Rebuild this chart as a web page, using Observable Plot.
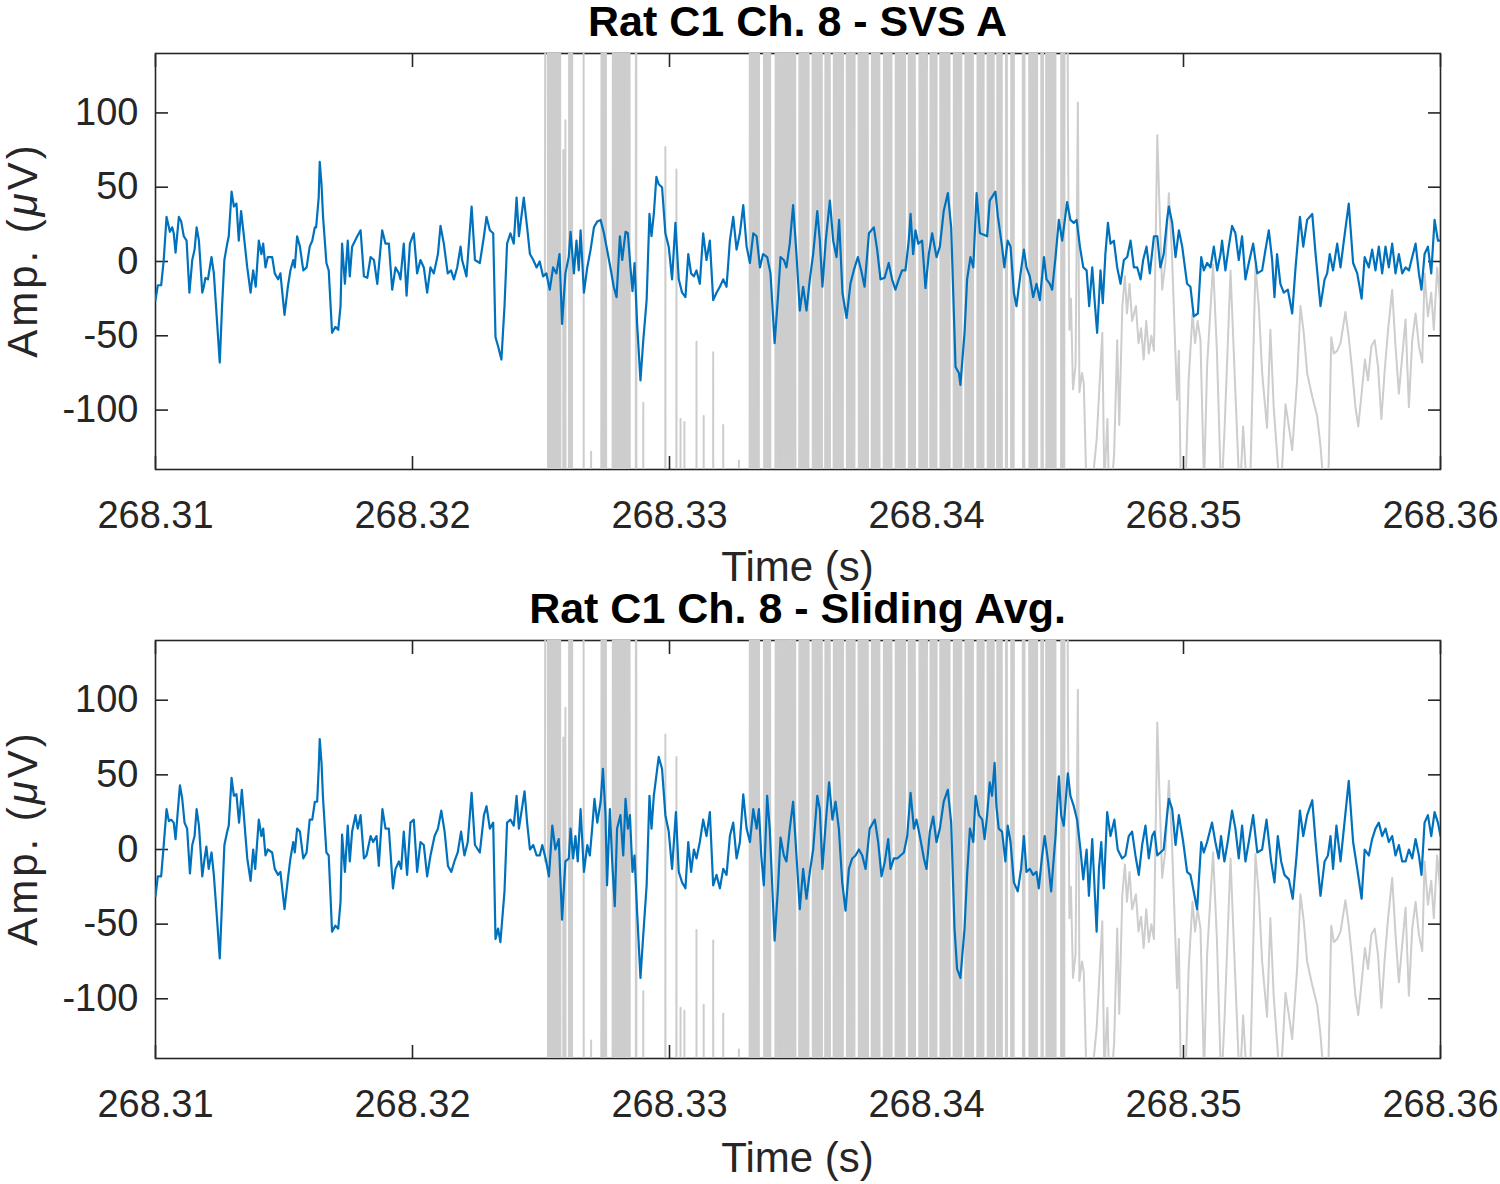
<!DOCTYPE html>
<html><head><meta charset="utf-8">
<script src="https://cdn.jsdelivr.net/npm/d3@7"></script>
<script src="https://cdn.jsdelivr.net/npm/@observablehq/plot@0.6"></script>
<style>
body{margin:0;background:#fff;}
#wrap{position:relative;width:1500px;height:1184px;overflow:hidden;font-family:"Liberation Sans",Arial,Helvetica,sans-serif;color:#262626;}
.t{position:absolute;left:155px;width:1285px;text-align:center;font-size:42px;line-height:32px;white-space:nowrap;}
.title{font-weight:bold;color:#000;font-size:43px;line-height:32px;}
.ylab{position:absolute;font-size:42px;line-height:42px;white-space:nowrap;writing-mode:vertical-rl;letter-spacing:3px;transform:translate(-50%,-50%) rotate(180deg);}
.panel{position:absolute;left:0;}
</style></head>
<body><div id="wrap"></div>
<script>
// time offsets in ms after 268.31 s, amplitude in µV
const startTime = 268.31;
const xTicks = [268.31, 268.32, 268.33, 268.34, 268.35, 268.36];
const yTicks = [-100, -50, 0, 50, 100];
const panelTitles = ["Rat C1 Ch. 8 - SVS A", "Rat C1 Ch. 8 - Sliding Avg."];

const svsTop = [[0.00,-26],[0.09,-16],[0.22,-16],[0.32,1],[0.43,30],[0.52,23],[0.56,20],[0.65,23],[0.71,19],[0.78,6],[0.91,30],[1.00,27],[1.10,17],[1.21,14],[1.32,-21],[1.43,1],[1.52,8],[1.60,23],[1.69,14],[1.82,-21],[1.88,-17],[1.94,-11],[2.04,-12],[2.18,3],[2.27,-8],[2.40,-42],[2.50,-68],[2.59,-30],[2.68,1],[2.79,12],[2.85,17],[2.96,47],[3.05,37],[3.15,39],[3.24,14],[3.33,34],[3.44,17],[3.57,-4],[3.70,-21],[3.80,-6],[3.90,-17],[4.02,14],[4.12,5],[4.19,12],[4.28,-4],[4.37,3],[4.54,3],[4.64,-8],[4.77,-12],[4.86,-8],[5.02,-36],[5.15,-17],[5.25,-6],[5.36,1],[5.42,-4],[5.51,17],[5.62,10],[5.75,-6],[5.88,-4],[6.00,10],[6.10,14],[6.20,23],[6.25,23],[6.35,43],[6.39,67],[6.46,52],[6.52,30],[6.65,-1],[6.74,-6],[6.87,-48],[7.00,-44],[7.11,-46],[7.20,-30],[7.26,12],[7.37,-15],[7.48,14],[7.56,-10],[7.65,10],[7.85,17],
[7.98,21],[8.11,-10],[8.24,-11],[8.37,3],[8.50,1],[8.63,-15],[8.82,21],[8.95,12],[9.08,12],[9.21,-19],[9.34,-4],[9.47,-8],[9.53,-12],[9.66,12],[9.77,-23],[9.90,12],[10.05,19],[10.18,-8],[10.31,1],[10.44,-4],[10.57,-21],[10.70,-4],[10.83,-8],[10.99,5],[11.09,24],[11.22,12],[11.37,-8],[11.50,-6],[11.61,-12],[11.74,-4],[11.87,10],[11.93,1],[12.10,-10],[12.30,37],[12.43,1],[12.62,-1],[12.78,17],[12.88,30],[13.01,21],[13.14,19],[13.23,-51],[13.33,-57],[13.46,-66],[13.58,-30],[13.68,12],[13.81,19],[13.94,12],[14.05,43],[14.14,17],[14.33,43],[14.46,23],[14.57,5],[14.70,1],[14.83,-4],[14.95,0],[15.08,-10],[15.21,-8],[15.34,-19],[15.47,-4],[15.60,-8],[15.72,5],[15.82,-42],[15.95,-8],[16.08,3],
[16.15,20],[16.28,-8],[16.38,14],[16.47,-6],[16.54,21],[16.67,-21],[16.80,-4],[16.93,8],[17.06,23],[17.19,27],[17.32,28],[17.45,19],[17.57,8],[17.70,-4],[17.83,-17],[17.94,-24],[18.07,17],[18.16,1],[18.29,20],[18.38,19],[18.48,-4],[18.56,-20],[18.64,-1],[18.74,-42],[18.87,-80],[18.98,-53],[19.11,-26],[19.22,32],[19.30,17],[19.39,32],[19.49,57],[19.58,52],[19.71,50],[19.84,19],[19.97,10],[20.10,-12],[20.23,26],[20.36,-12],[20.49,-21],[20.62,-24],[20.73,5],[20.84,-8],[20.95,-10],[21.05,-6],[21.18,-15],[21.31,19],[21.44,1],[21.57,14],[21.70,-26],[21.83,-21],[21.96,-17],[22.09,-12],[22.22,-17],[22.35,14],[22.48,30],[22.61,8],[22.74,19],[22.87,38],[23.00,10],[23.13,-1],[23.26,19],[23.39,17],[23.52,-4],[23.64,5],[23.80,3],[23.93,-8],[24.09,-55],[24.22,-24],[24.32,3],
[24.45,1],[24.55,-4],[24.68,12],[24.81,38],[24.94,5],[25.07,-33],[25.20,-17],[25.33,-33],[25.46,-12],[25.59,5],[25.75,34],[25.85,14],[25.95,-17],[26.08,14],[26.24,41],[26.37,14],[26.50,3],[26.60,28],[26.73,-21],[26.89,-38],[27.04,-15],[27.17,-6],[27.33,3],[27.46,-6],[27.59,-17],[27.76,19],[27.95,23],[28.08,8],[28.21,-12],[28.37,-11],[28.53,-1],[28.66,-12],[28.79,-19],[28.92,-12],[29.05,-6],[29.18,-6],[29.31,14],[29.38,32],[29.48,5],[29.57,21],[29.68,12],[29.83,14],[29.96,-18],[30.09,5],[30.22,19],[30.39,3],[30.52,10],[30.67,34],[30.83,46],[30.96,23],[31.13,-71],[31.26,-75],[31.32,-83],[31.48,-48],[31.58,-12],[31.71,3],[31.82,-4],[31.95,46],[32.08,19],[32.23,18],[32.36,17],[32.46,41],
[32.68,47],[32.78,30],[32.94,10],[33.03,-4],[33.16,14],[33.27,10],[33.40,-21],[33.50,-30],[33.66,-8],[33.79,8],[33.89,-4],[34.02,-10],[34.15,-24],[34.28,-15],[34.41,-26],[34.57,3],[34.67,-12],[34.80,-15],[34.89,-19],[35.02,3],[35.15,28],[35.28,14],[35.47,40],[35.60,28],[35.73,26],[35.84,28],[35.97,10],[36.10,-4],[36.23,-6],[36.33,-30],[36.45,-4],[36.54,-26],[36.64,-48],[36.77,-6],[36.86,-28],[36.96,5],[37.06,26],[37.16,12],[37.29,14],[37.42,-4],[37.55,-15],[37.68,1],[37.81,3],[37.94,14],[38.07,-4],[38.20,-4],[38.33,-12],[38.43,1],[38.56,10],[38.69,-8],[38.85,17],[38.98,17],[39.10,-4],[39.23,5],[39.36,28],[39.43,37],[39.56,26],[39.69,3],[39.82,21],[39.95,10],[40.14,-15],[40.27,-17],[40.40,-37],[40.56,-35],
[40.69,3],[40.79,-6],[40.92,-1],[41.05,-4],[41.18,10],[41.31,-6],[41.44,5],[41.50,14],[41.63,-6],[41.76,10],[41.89,24],[42.02,19],[42.15,1],[42.28,17],[42.41,-12],[42.54,-1],[42.71,12],[42.87,-8],[43.06,-6],[43.19,8],[43.32,21],[43.45,1],[43.54,-24],[43.64,5],[43.77,-15],[43.90,-21],[44.06,-19],[44.23,-35],[44.36,-4],[44.53,30],[44.66,10],[44.81,28],[45.01,32],[45.14,5],[45.33,-30],[45.49,-12],[45.59,-8],[45.69,5],[45.82,-6],[45.98,12],[46.11,-4],[46.24,14],[46.43,39],[46.60,-1],[46.76,-8],[46.93,-25],[47.05,3],[47.21,-4],[47.34,8],[47.47,-6],[47.60,10],[47.73,-8],[47.86,10],[47.99,-4],[48.12,12],[48.25,-8],[48.38,5],[48.51,-8],[48.64,-4],[48.77,-6],[48.90,3],[49.03,12],[49.16,-8],[49.26,-19],[49.38,5],[49.51,10],[49.64,-8],[49.77,28],[49.90,14],[50.00,14]];

const slidingAvg = [[0.00,-31],[0.09,-18],[0.22,-18],[0.32,3],[0.43,27],[0.52,19],[0.61,20],[0.71,18],[0.78,7],[0.95,43],[1.04,34],[1.13,18],[1.23,14],[1.34,-16],[1.43,3],[1.52,9],[1.60,27],[1.69,16],[1.82,-18],[1.91,-6],[1.98,2],[2.07,-13],[2.18,-2],[2.27,-17],[2.40,-48],[2.50,-73],[2.59,-35],[2.68,3],[2.79,12],[2.85,16],[2.96,48],[3.05,36],[3.15,37],[3.25,18],[3.36,40],[3.46,18],[3.57,-6],[3.70,-21],[3.80,0],[3.88,-13],[4.02,20],[4.12,9],[4.19,14],[4.28,-4],[4.37,0],[4.54,-2],[4.64,-13],[4.77,-17],[4.86,-15],[5.02,-40],[5.15,-20],[5.25,-6],[5.36,5],[5.42,-2],[5.51,14],[5.62,12],[5.75,-6],[5.88,-2],[6.00,20],[6.10,20],[6.20,32],[6.29,32],[6.35,54],[6.39,74],[6.46,58],[6.52,34],[6.65,-2],[6.74,-4],[6.87,-55],[7.00,-51],[7.11,-53],[7.20,-35],[7.26,10],[7.37,-15],[7.48,16],[7.56,-8],[7.65,12],[7.78,23],[7.87,14],
[7.98,23],[8.11,-6],[8.21,-4],[8.37,9],[8.47,5],[8.60,9],[8.69,-11],[8.83,27],[8.95,14],[9.08,14],[9.24,-26],[9.34,-13],[9.47,-8],[9.56,-13],[9.66,12],[9.79,-17],[9.92,18],[10.05,20],[10.18,-15],[10.31,5],[10.44,3],[10.57,-18],[10.70,-4],[10.86,9],[10.99,14],[11.12,26],[11.25,12],[11.38,-11],[11.51,-15],[11.63,-8],[11.76,-2],[11.89,12],[12.02,-4],[12.15,5],[12.30,38],[12.43,3],[12.62,-2],[12.78,23],[12.88,29],[13.01,14],[13.14,18],[13.23,-60],[13.33,-53],[13.42,-62],[13.58,-28],[13.68,18],[13.81,20],[13.94,16],[14.05,36],[14.14,14],[14.36,39],[14.46,18],[14.57,0],[14.70,3],[14.83,-4],[14.95,-4],[15.05,3],[15.18,-6],[15.31,-18],[15.44,16],[15.56,0],[15.69,7],[15.82,-47],[15.95,-8],[16.08,-6],
[16.15,14],[16.25,-6],[16.34,9],[16.43,-8],[16.54,27],[16.67,-15],[16.80,3],[16.90,-4],[16.99,14],[17.08,34],[17.19,18],[17.32,32],[17.41,54],[17.51,23],[17.57,-24],[17.68,27],[17.77,-8],[17.87,-38],[17.96,14],[18.09,23],[18.20,-4],[18.29,34],[18.38,14],[18.46,23],[18.56,-15],[18.64,-4],[18.74,-42],[18.87,-86],[18.98,-57],[19.11,-24],[19.22,36],[19.30,14],[19.39,36],[19.58,62],[19.71,54],[19.84,23],[19.97,12],[20.10,-13],[20.25,25],[20.36,-15],[20.49,-22],[20.62,-26],[20.73,5],[20.84,-15],[20.95,0],[21.05,-6],[21.18,5],[21.31,20],[21.44,9],[21.57,25],[21.70,-24],[21.83,-17],[21.96,-26],[22.09,-13],[22.22,-17],[22.35,9],[22.48,18],[22.61,-6],[22.74,5],[22.87,37],[23.00,14],[23.13,5],[23.26,27],[23.39,14],[23.48,27],[23.57,-4],[23.67,-24],[23.80,36],[23.90,14],[24.09,-61],[24.22,-26],[24.32,8],
[24.45,-4],[24.55,-8],[24.68,14],[24.81,32],[24.94,-4],[25.07,-40],[25.20,-13],[25.33,-33],[25.46,-15],[25.59,0],[25.75,36],[25.85,27],[25.95,-13],[26.08,18],[26.21,45],[26.34,20],[26.46,32],[26.59,14],[26.72,-22],[26.85,-41],[26.98,-13],[27.11,-6],[27.24,-4],[27.37,0],[27.50,-4],[27.63,-13],[27.79,14],[27.99,20],[28.12,5],[28.25,-18],[28.38,-8],[28.51,7],[28.60,-13],[28.73,-6],[28.86,-6],[28.99,-4],[29.12,-2],[29.25,9],[29.38,38],[29.51,14],[29.61,20],[29.74,9],[29.90,-6],[30.00,-13],[30.13,12],[30.26,22],[30.39,5],[30.52,14],[30.67,32],[30.83,40],[30.96,18],[31.09,-53],[31.19,-80],[31.32,-86],[31.48,-53],[31.58,-17],[31.69,14],[31.82,5],[31.91,36],[32.04,23],[32.17,20],[32.26,7],[32.36,23],[32.46,45],[32.55,36],[32.65,58],
[32.72,29],[32.81,14],[32.94,12],[33.07,-8],[33.16,16],[33.27,5],[33.40,-22],[33.55,-28],[33.68,-13],[33.79,9],[33.89,-15],[34.02,-13],[34.15,-17],[34.28,-15],[34.37,-26],[34.50,-4],[34.60,9],[34.73,-8],[34.85,-28],[35.02,9],[35.15,49],[35.24,23],[35.34,16],[35.50,51],[35.60,36],[35.73,29],[35.86,20],[35.99,0],[36.10,-20],[36.23,0],[36.32,-31],[36.45,7],[36.54,-26],[36.62,-55],[36.71,-13],[36.80,5],[36.90,-26],[37.03,25],[37.16,9],[37.31,20],[37.44,0],[37.61,-6],[37.74,-4],[37.87,9],[38.00,12],[38.13,-4],[38.26,-17],[38.39,3],[38.52,16],[38.65,-6],[38.78,9],[38.87,12],[38.98,-4],[39.10,-2],[39.23,0],[39.36,23],[39.43,34],[39.56,27],[39.69,3],[39.82,23],[39.99,5],[40.14,-15],[40.27,-17],[40.43,-31],[40.53,-40],[40.69,5],
[40.79,-2],[40.92,5],[41.11,18],[41.24,5],[41.37,-6],[41.46,9],[41.59,-8],[41.72,5],[41.89,26],[42.02,14],[42.15,-6],[42.28,16],[42.41,-8],[42.54,5],[42.71,23],[42.87,-2],[43.06,0],[43.23,20],[43.41,-8],[43.54,-22],[43.67,9],[43.80,-8],[43.93,-17],[44.10,-20],[44.25,-33],[44.40,-4],[44.53,26],[44.66,9],[44.81,23],[45.01,33],[45.14,5],[45.33,-31],[45.49,-8],[45.62,-4],[45.72,9],[45.82,-13],[45.95,16],[46.11,-8],[46.24,14],[46.43,46],[46.60,5],[46.76,-13],[46.93,-33],[47.05,0],[47.21,-4],[47.34,7],[47.47,14],[47.60,18],[47.73,9],[47.86,14],[47.99,5],[48.12,9],[48.25,-4],[48.38,3],[48.51,-8],[48.64,-8],[48.77,0],[48.90,-6],[49.03,7],[49.16,-4],[49.26,-17],[49.38,18],[49.51,23],[49.64,9],[49.77,25],[49.90,18],[50.00,9]];

// raw signal with stimulation artifacts (saturating far outside the view)
const rawSignal = [[15.15,-8],
[15.24,1000],[15.30,-1000],[15.36,1000],[15.42,-1000],[15.48,1000],[15.54,-1000],[15.60,1000],[15.66,-1000],[15.72,1000],[15.78,-1000],
[15.85,-1000],[15.87,75],[15.89,-1000],[15.93,-1000],[15.95,95],[15.97,-1000],
[16.06,-1000],[16.12,1000],[16.18,-1000],[16.24,1000],
[16.64,1000],[16.68,-1000],
[16.93,-1000],[16.95,-128],[16.97,-1000],
[17.32,-1000],[17.38,1000],[17.44,-1000],[17.50,1000],[17.56,-1000],
[17.76,-1000],[17.82,1000],[17.88,-1000],[17.94,1000],[18.00,-1000],[18.06,1000],[18.12,-1000],[18.18,1000],[18.24,-1000],[18.30,1000],[18.36,-1000],[18.42,1000],[18.48,-1000],
[18.68,-1000],[18.70,1000],[18.72,-1000],
[18.96,-1000],[18.98,-95],[19.00,-1000],
[19.82,-1000],[19.84,77],[19.86,-1000],
[20.25,-1000],[20.27,62],[20.29,-1000],
[20.41,-1000],[20.43,-106],[20.45,-1000],
[20.56,-1000],[20.58,-108],[20.60,-1000],
[21.03,-1000],[21.05,-54],[21.07,-1000],
[21.31,-1000],[21.33,-104],[21.35,-1000],
[21.68,-1000],[21.70,-61],[21.72,-1000],
[22.07,-1000],[22.09,-110],[22.11,-1000],
[22.68,-1000],[22.70,-134],[22.72,-1000],
[23.09,-1000],[23.15,1000],[23.21,-1000],[23.27,1000],[23.33,-1000],[23.39,1000],[23.45,-1000],[23.51,1000],
[23.65,1000],[23.71,-1000],[23.77,1000],[23.83,-1000],[23.89,1000],[23.95,-1000],
[24.09,-1000],[24.16,1000],[24.23,-1000],[24.30,1000],[24.37,-1000],[24.44,1000],[24.51,-1000],[24.58,1000],[24.65,-1000],[24.72,1000],[24.79,-1000],[24.86,1000],[24.93,-1000],
[25.02,-1000],[25.08,1000],[25.14,-1000],[25.20,1000],[25.26,-1000],[25.32,1000],[25.38,-1000],[25.44,1000],
[25.54,1000],[25.60,-1000],[25.66,1000],[25.72,-1000],[25.78,1000],[25.84,-1000],[25.90,1000],[25.96,-1000],
[26.03,-1000],[26.09,1000],[26.15,-1000],[26.21,1000],[26.27,-1000],
[26.36,-1000],[26.42,1000],[26.48,-1000],[26.54,1000],[26.60,-1000],[26.66,1000],[26.72,-1000],[26.78,1000],
[26.87,1000],[26.93,-1000],[26.99,1000],[27.05,-1000],[27.11,1000],[27.17,-1000],[27.23,1000],
[27.33,1000],[27.39,-1000],[27.45,1000],[27.51,-1000],[27.57,1000],[27.63,-1000],[27.69,1000],[27.75,-1000],
[27.84,-1000],[27.90,1000],[27.96,-1000],[28.02,1000],[28.08,-1000],[28.14,1000],[28.20,-1000],
[28.31,-1000],[28.37,1000],[28.43,-1000],[28.49,1000],[28.55,-1000],[28.61,1000],[28.67,-1000],
[28.77,-1000],[28.83,1000],[28.89,-1000],[28.95,1000],[29.01,-1000],[29.07,1000],[29.13,-1000],[29.19,1000],
[29.28,1000],[29.34,-1000],[29.40,1000],[29.46,-1000],[29.52,1000],[29.58,-1000],
[29.69,-1000],[29.75,1000],[29.81,-1000],[29.87,1000],[29.93,-1000],[29.99,1000],[30.05,-1000],
[30.12,-1000],[30.18,1000],[30.24,-1000],[30.30,1000],[30.36,-1000],[30.42,1000],
[30.51,1000],[30.57,-1000],[30.63,1000],[30.69,-1000],[30.75,1000],[30.81,-1000],[30.87,1000],[30.93,-1000],
[31.03,-1000],[31.09,1000],[31.15,-1000],[31.21,1000],[31.27,-1000],[31.33,1000],[31.39,-1000],
[31.48,-1000],[31.54,1000],[31.60,-1000],[31.66,1000],[31.72,-1000],[31.78,1000],[31.84,-1000],
[31.95,-1000],[32.01,1000],[32.07,-1000],[32.13,1000],[32.19,-1000],[32.25,1000],
[32.35,1000],[32.41,-1000],[32.47,1000],[32.53,-1000],[32.59,1000],[32.65,-1000],
[32.72,-1000],[32.78,1000],[32.84,-1000],[32.90,1000],[32.96,-1000],
[33.07,-1000],[33.11,1000],[33.15,-1000],
[33.27,-1000],[33.32,1000],[33.37,-1000],[33.42,1000],
[33.72,1000],[33.78,-1000],[33.84,1000],
[33.97,1000],[34.03,-1000],[34.09,1000],[34.15,-1000],[34.21,1000],[34.27,-1000],[34.33,1000],
[34.44,1000],[34.50,-1000],[34.56,1000],
[34.63,1000],[34.69,-1000],[34.75,1000],[34.81,-1000],[34.87,1000],[34.93,-1000],[34.99,1000],[35.05,-1000],
[35.21,-1000],[35.27,1000],[35.33,-1000],[35.40,1000],
[35.50,100],[35.56,-46],[35.62,-25],[35.70,-86],[35.80,-70],[35.89,107],[35.95,-88],[36.05,-75],[36.12,-82],[36.25,-170],[36.45,-150],[36.62,-120],[36.84,-48],[36.92,-150],[37.04,-106],[37.12,-170],[37.30,-130],[37.42,-53],[37.50,-110],[37.62,-30],[37.72,-10],[37.80,-35],[37.90,-15],[38.00,-40],[38.15,-30],[38.25,-55],[38.35,-45],[38.45,-66],[38.55,-40],[38.65,-62],[38.75,-50],[38.85,-60],[38.98,85],[39.06,40],[39.17,-19],[39.30,0],[39.43,46],[39.55,5],[39.75,-93],[39.82,-60],[39.90,-160],[40.05,-170],[40.20,-80],[40.35,-35],[40.45,-55],[40.55,-40],[40.66,-53],
[40.80,-150],[40.92,-70],[41.15,-2],[41.30,-60],[41.47,-160],[41.60,-112],[41.83,-6],[42.00,-80],[42.19,-160],[42.32,-111],[42.45,-150],[42.58,-160],[42.80,-3],[42.93,-30],[43.06,-75],[43.25,-112],[43.38,-46],[43.51,-98],[43.77,-160],[43.97,-96],[44.10,-111],[44.23,-127],[44.42,-80],[44.55,-30],[44.68,-48],[44.81,-75],[45.01,-91],[45.20,-104],[45.33,-124],[45.49,-160],[45.62,-160],[45.75,-51],[45.85,-62],[45.98,-60],[46.11,-55],[46.30,-34],[46.43,-51],[46.56,-73],[46.69,-98],[46.80,-111],[46.93,-89],[47.06,-66],[47.18,-80],[47.31,-57],[47.44,-53],[47.57,-71],[47.70,-106],[47.83,-73],[47.96,-46],[48.12,-19],[48.25,-57],[48.38,-89],[48.51,-64],[48.64,-39],[48.77,-98],[48.90,-53],[49.03,-35],[49.16,-57],[49.29,-68],[49.38,-8],[49.51,-37],[49.64,-21],[49.74,-46],[49.87,-4],[50.00,-30]];

const AX = "#262626";
const tx = d => startTime + d[0] / 1000;
const ty = d => d[1];

function panel(series, mt, mb) {
  return Plot.plot({
    width: 1500, height: 592,
    marginLeft: 155, marginRight: 60, marginTop: mt, marginBottom: mb,
    x: {domain: [268.31, 268.36]},
    y: {domain: [-140, 140]},
    style: {fontFamily: "'Liberation Sans', Arial, Helvetica, sans-serif", fontSize: "38px", color: AX, background: "transparent", overflow: "visible"},
    marks: [
      Plot.frame({stroke: AX, strokeWidth: 1.6}),
      Plot.axisX({anchor: "bottom", ticks: xTicks, tickSize: -13, tickPadding: 45, strokeWidth: 1.6, tickFormat: d => d.toFixed(2), label: null}),
      Plot.axisX({anchor: "top", ticks: xTicks, tickSize: -13, strokeWidth: 1.6, tickFormat: () => "", label: null}),
      Plot.axisY({anchor: "left", ticks: yTicks, tickSize: -13, tickPadding: 30, strokeWidth: 1.6, tickFormat: d => String(d), label: null}),
      Plot.axisY({anchor: "right", ticks: yTicks, tickSize: -13, strokeWidth: 1.6, tickFormat: () => "", label: null}),
      Plot.line(rawSignal, {x: tx, y: ty, stroke: "#cdcdcd", strokeWidth: 2, clip: true}),
      Plot.line(series, {x: tx, y: ty, stroke: "#0072bd", strokeWidth: 2.2, clip: true})
    ]
  });
}

const wrap = document.getElementById("wrap");
const p1 = panel(svsTop, 53, 123);
p1.classList.add("panel"); p1.style.top = "0px";
const p2 = panel(slidingAvg, 48, 126);
p2.classList.add("panel"); p2.style.top = "592px";
wrap.appendChild(p1); wrap.appendChild(p2);

function addText(cls, html, top) {
  const d = document.createElement("div");
  d.className = cls; d.innerHTML = html; d.style.top = top + "px";
  wrap.appendChild(d);
}
addText("t title", panelTitles[0], 5);
addText("t", "Time (s)", 551);
addText("t title", panelTitles[1], 592);
addText("t", "Time (s)", 1142);
for (const cy of [250, 838]) {
  const d = document.createElement("div");
  d.className = "ylab";
  d.innerHTML = "Amp. (<i>μ</i>V)";
  d.style.left = "23px"; d.style.top = cy + "px";
  wrap.appendChild(d);
}
</script>
</body></html>
